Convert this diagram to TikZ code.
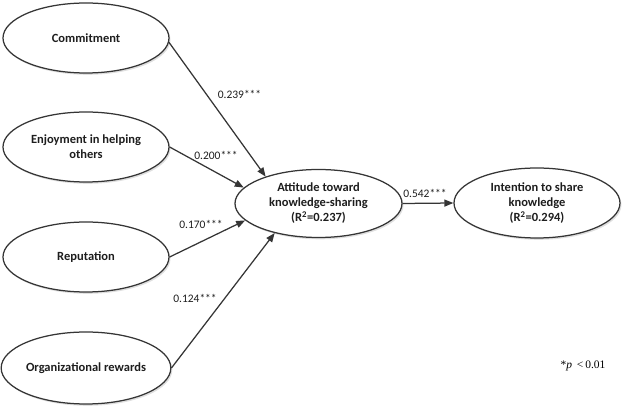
\documentclass[tikz,border=0pt]{standalone}
\usepackage{fontspec}
\setmainfont{Carlito}
\newfontfamily\serifnote{Liberation Serif}
\usetikzlibrary{shapes.geometric,arrows.meta,shadows}
\definecolor{linegray}{HTML}{353535}
\definecolor{textgray}{HTML}{1E1E1E}
\tikzset{
  construct/.style={ellipse, draw=linegray, line width=1.25pt, fill=white,
    minimum width=166pt, minimum height=70pt, inner sep=0pt, align=center,
    text=textgray, font=\fontsize{12.5}{15}\selectfont\bfseries,
    drop shadow={shadow xshift=1.5pt, shadow yshift=-1.8pt, opacity=0.25, fill=gray}},
  path/.style={draw=linegray, line width=1.25pt, -{Triangle[length=9pt,width=7pt]}},
  coef/.style={font=\fontsize{11.5}{13}\selectfont, text=textgray, inner sep=0pt}
}
\begin{document}
\begin{tikzpicture}[x=1pt,y=-1pt]
\useasboundingbox (0,0) rectangle (625,411);
\node[construct] (com) at (86,38) {Commitment};
\node[construct] (enj) at (86,147) {Enjoyment in helping\\others};
\node[construct] (rep) at (86,257) {Reputation};
\node[construct, minimum height=72pt] (org) at (86,368) {Organizational rewards};
\node[construct, minimum width=167pt, minimum height=68pt] (att) at (318.5,203.5) {Attitude toward\\knowledge-sharing\\(R\textsuperscript{2}=0.237)};
\node[construct, minimum width=166pt, minimum height=70pt] (int) at (537,203) {Intention to share\\knowledge\\(R\textsuperscript{2}=0.294)};

\draw[path] (com.-3) -- (att.153);
\draw[path] (enj.east) -- (att.168);
\draw[path] (rep.east) -- (att.193);
\draw[path] (org.east) -- (att.214);
\draw[path] (att.east) -- (int.west);

\node[coef] (c1) at (239.5,94) {0.239***};
\node[coef] (c2) at (216,155) {0.200***};
\node[coef] (c3) at (201,224) {0.170***};
\node[coef] (c4) at (195,298) {0.124***};
\node[coef] (c5) at (425,193) {0.542***};

\node[inner sep=0pt, font=\serifnote\fontsize{11.5}{13}\selectfont] (note) at (583,366) {*\textit{p} \,<\,0.01};
\end{tikzpicture}
\end{document}
